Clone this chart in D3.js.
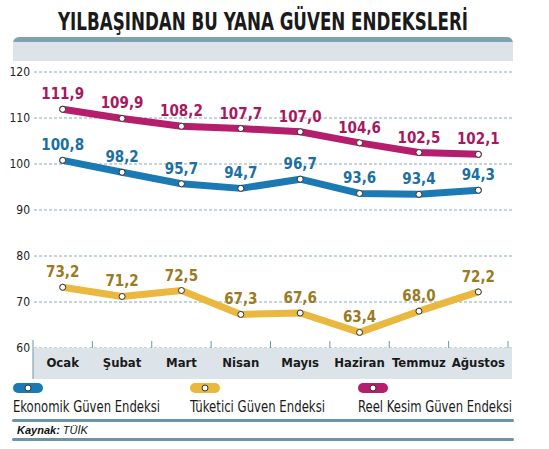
<!DOCTYPE html>
<html><head><meta charset="utf-8">
<script src="https://cdn.jsdelivr.net/npm/d3@7"></script>
<style>
body{margin:0;background:#fff}
text{font-family:"DejaVu Sans Condensed","Liberation Sans Narrow",sans-serif}
</style></head><body>
<svg id="c" width="549" height="449"></svg>
<script>
var months = ['Ocak','Şubat','Mart','Nisan','Mayıs','Haziran','Temmuz','Ağustos'];
var ekonomik = [100.8, 98.2, 95.7, 94.7, 96.7, 93.6, 93.4, 94.3];
var tuketici = [73.2, 71.2, 72.5, 67.3, 67.6, 63.4, 68.0, 72.2];
var reel = [111.9, 109.9, 108.2, 107.7, 107.0, 104.6, 102.5, 102.1];
var yTicks = [60, 70, 80, 90, 100, 110, 120];

var series = [
    {name:'Ekonomik Güven Endeksi', vals:ekonomik, col:'#1b79b3', lab:'#1b6fa3', lx:13, lw:147},
    {name:'Tüketici Güven Endeksi', vals:tuketici, col:'#eab83f', lab:'#9b7a22', lx:190, lw:135},
    {name:'Reel Kesim Güven Endeksi', vals:reel, col:'#b51d6d', lab:'#a8185f', lx:358, lw:154}
];

var svg = d3.select('#c');
var x = d3.scaleBand().domain(months).range([33, 508]);
var y = d3.scaleLinear().domain([60, 120]).range([348, 72]);
var fmt = function(v) { return v.toFixed(1).replace('.', ','); };

// title
svg.append('text').attr('x', 58).attr('y', 30)
    .attr('textLength', 410).attr('lengthAdjust', 'spacingAndGlyphs')
    .style('font-size', '25px').style('font-weight', 'bold').style('fill', '#1a1a1a')
    .text('YILBAŞINDAN BU YANA GÜVEN ENDEKSLERİ');

// header bar
svg.append('rect').attr('x', 13).attr('y', 37).attr('width', 500).attr('height', 24)
    .attr('rx', 6).style('fill', '#7fa2b2');
svg.append('rect').attr('x', 13).attr('y', 42).attr('width', 500).attr('height', 19)
    .style('fill', '#dce4ea');

// grid
svg.selectAll('.grid').data(yTicks).enter().append('line')
    .attr('x1', 34).attr('x2', 512)
    .attr('y1', function(d) { return y(d); }).attr('y2', function(d) { return y(d); })
    .style('stroke', '#6f95a5').style('stroke-dasharray', '3,2').style('stroke-width', 0.8);
svg.selectAll('.ytl').data(yTicks).enter().append('text')
    .attr('x', 30).attr('y', function(d) { return y(d) + 4; }).attr('text-anchor', 'end')
    .style('font-size', '12px').style('fill', '#222').text(function(d) { return d; });

// x band
svg.append('rect').attr('x', 33).attr('y', 348).attr('width', 479).attr('height', 31)
    .style('fill', '#dce4ea');
svg.append('line').attr('x1', 33).attr('x2', 33).attr('y1', 340).attr('y2', 379).style('stroke', '#6f95a5');
svg.selectAll('.xt').data(months).enter().append('line')
    .attr('x1', function(d) { return x(d) + x.bandwidth(); }).attr('x2', function(d) { return x(d) + x.bandwidth(); })
    .attr('y1', 341).attr('y2', 348).style('stroke', '#6f95a5');
svg.selectAll('.xl').data(months).enter().append('text')
    .attr('x', function(d) { return x(d) + x.bandwidth() / 2; }).attr('y', 367)
    .attr('text-anchor', 'middle').style('font-size', '13px').style('font-weight', 'bold')
    .style('fill', '#1a1a1a').text(function(d) { return d; });

// lines
var line = d3.line()
    .x(function(d, i) { return x(months[i]) + x.bandwidth() / 2; })
    .y(function(d) { return y(d); });

series.forEach(function(s) {
    svg.append('path').datum(s.vals).attr('d', line)
        .style('fill', 'none').style('stroke', s.col).style('stroke-width', 7)
        .style('stroke-linejoin', 'round').style('stroke-linecap', 'round');
    svg.selectAll(null).data(s.vals).enter().append('circle')
        .attr('cx', function(d, i) { return x(months[i]) + x.bandwidth() / 2; })
        .attr('cy', function(d) { return y(d); }).attr('r', 3)
        .style('fill', '#fff').style('stroke', '#333').style('stroke-width', 1);
    svg.selectAll(null).data(s.vals).enter().append('text')
        .attr('x', function(d, i) { return x(months[i]) + x.bandwidth() / 2; })
        .attr('y', function(d) { return y(d) - 10; }).attr('text-anchor', 'middle')
        .style('font-size', '15px').style('font-weight', 'bold').style('fill', s.lab)
        .text(fmt);

    // legend
    svg.append('rect').attr('x', s.lx).attr('y', 383).attr('width', 30).attr('height', 10)
        .attr('rx', 5).style('fill', s.col);
    svg.append('circle').attr('cx', s.lx + 15).attr('cy', 388).attr('r', 3)
        .style('fill', '#fff').style('stroke', '#333');
    svg.append('text').attr('x', s.lx).attr('y', 412).style('font-size', '15px')
        .attr('textLength', s.lw).attr('lengthAdjust', 'spacingAndGlyphs')
        .style('fill', '#1a1a1a').text(s.name);
});

svg.append('rect').attr('x', 12).attr('y', 419).attr('width', 502).attr('height', 3).attr('rx', 1.5).style('fill', '#6e93a6');
svg.append('rect').attr('x', 12).attr('y', 438).attr('width', 502).attr('height', 3).attr('rx', 1.5).style('fill', '#6e93a6');
svg.append('text').attr('x', 17).attr('y', 434).style('font-family', 'Liberation Sans, sans-serif')
    .style('font-size', '11px').style('font-style', 'italic').style('fill', '#111')
    .html('<tspan font-weight="bold">Kaynak:</tspan> TÜİK');
</script>
</body></html>
